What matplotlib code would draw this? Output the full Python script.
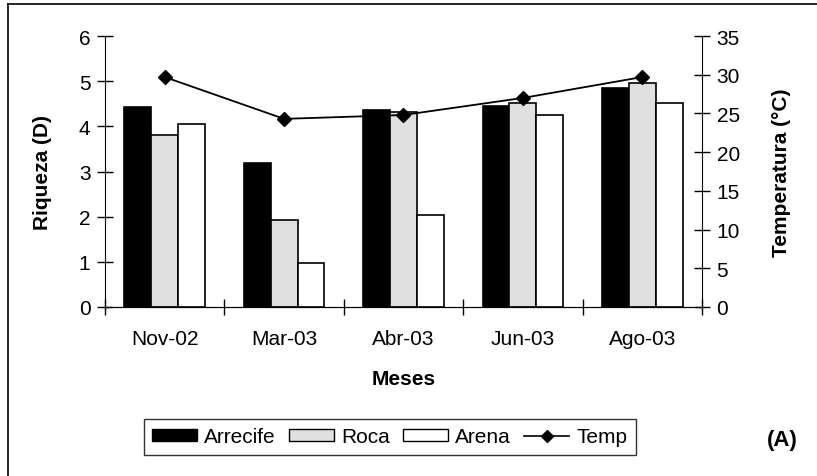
import numpy as np
import matplotlib.pyplot as plt
from matplotlib.lines import Line2D
from matplotlib.patches import Patch

plt.rcParams['font.family'] = ['Liberation Sans', 'DejaVu Sans']

# Datos
meses = ['Nov-02', 'Mar-03', 'Abr-03', 'Jun-03', 'Ago-03']
arrecife = [4.43, 3.19, 4.36, 4.45, 4.84]
roca = [3.81, 1.92, 4.32, 4.51, 4.97]
arena = [4.06, 0.98, 2.04, 4.25, 4.51]
temp = [29.7, 24.3, 24.8, 27.0, 29.7]

x = np.arange(len(meses))
w = 0.225

fig = plt.figure(figsize=(8.17, 4.77), dpi=100)
ax = fig.add_axes([0.1285, 0.3543, 0.7307, 0.5681])

ax.bar(x - w, arrecife, w, color='black', edgecolor='black', linewidth=1.2, label='Arrecife')
ax.bar(x, roca, w, color='#e0e0e0', edgecolor='black', linewidth=1.2, label='Roca')
ax.bar(x + w, arena, w, color='white', edgecolor='black', linewidth=1.2, label='Arena')

ax.set_xlim(-0.5, len(meses) - 0.5)
ax.set_ylim(0, 6)
ax.set_yticks(range(0, 7))
ax.set_xticks(x)
ax.set_xticklabels(meses)
ax.set_xticks(np.arange(-0.5, len(meses)), minor=True)
ax.tick_params(axis='x', which='major', length=0, labelsize=15, pad=16)
ax.tick_params(axis='x', which='minor', direction='inout', length=11, width=1)
ax.tick_params(axis='y', direction='inout', length=11, width=1, labelsize=15, pad=5)
ax.spines['top'].set_visible(False)
ax.spines['right'].set_visible(False)
ax.set_xlabel('Meses', fontsize=15, fontweight='bold', labelpad=15)
ax.set_ylabel('Riqueza (D)', fontsize=15, fontweight='bold', labelpad=19)

ax2 = ax.twinx()
ax2.plot(x, temp, color='black', linewidth=1.3, marker='D', markersize=7, label='Temp')
ax2.set_ylim(0, 35)
ax2.set_yticks(range(0, 36, 5))
ax2.tick_params(axis='y', direction='inout', length=11, width=1, labelsize=15, pad=5)
ax2.spines['top'].set_visible(False)
ax2.spines['left'].set_visible(False)
ax2.set_ylabel('Temperatura (°C)', fontsize=15, fontweight='bold', labelpad=23)

handles = [Patch(facecolor='black', edgecolor='black'),
           Patch(facecolor='#e0e0e0', edgecolor='black'),
           Patch(facecolor='white', edgecolor='black'),
           Line2D([], [], color='black', marker='D', markersize=6, linewidth=1.2)]
leg = fig.legend(handles, ['Arrecife', 'Roca', 'Arena', 'Temp'], ncol=4,
                 loc='center', bbox_to_anchor=(0.4768, 0.0818), frameon=True,
                 fancybox=False, edgecolor='black', fontsize=15,
                 handlelength=2.16, handleheight=0.55, handletextpad=0.33,
                 columnspacing=0.65, borderpad=0.4, borderaxespad=0)
leg.get_frame().set_linewidth(1)

fig.text(0.957, 0.077, '(A)', fontsize=16, fontweight='bold', ha='center', va='center')

# marco
fig.add_artist(Line2D([8 / 817, 1.0], [1 - 5 / 477, 1 - 5 / 477], color='black', linewidth=1.2))
fig.add_artist(Line2D([8 / 817, 8 / 817], [0, 1 - 5 / 477], color='black', linewidth=1.2))

fig.savefig('out.png', dpi=100)
